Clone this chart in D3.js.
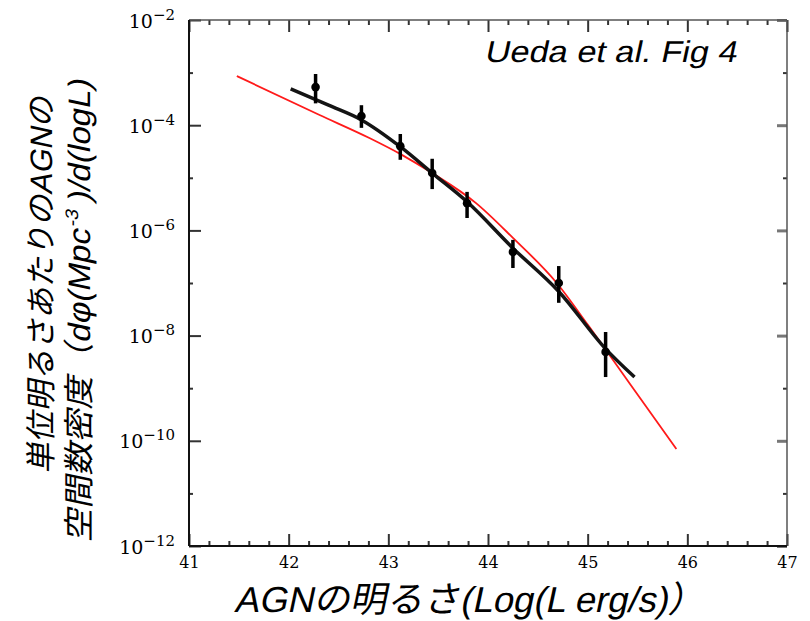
<!DOCTYPE html>
<html>
<head>
<meta charset="utf-8">
<script src="https://cdn.jsdelivr.net/npm/d3@7"></script>
<style>
  body { margin: 0; background: #fff; }
  .num { font-family: "DejaVu Serif", serif; fill: #000; }
  .jp { font-family: "Liberation Sans", "Noto Sans CJK JP", sans-serif; fill: #000; }
</style>
</head>
<body>
<svg id="chart" width="810" height="621"></svg>
<script>
// log L (erg/s) ticks and decades of the density axis
var xMajor = [41, 42, 43, 44, 45, 46, 47];
var yMajorExp = [-2, -4, -6, -8, -10, -12];
var yMinorExp = [-3, -5, -7, -9, -11];

// binned data points (Ueda et al.)
var pointL   = [42.27, 42.73, 43.12, 43.44, 43.79, 44.25, 44.71, 45.18];
var pointPhi = [5.3e-4, 1.5e-4, 4.0e-5, 1.23e-5, 3.3e-6, 3.9e-7, 1.0e-7, 4.9e-9];
var errHi    = [9.4e-4, 2.4e-4, 6.8e-5, 2.3e-5, 5.4e-6, 6.6e-7, 2.1e-7, 1.17e-8];
var errLo    = [2.6e-4, 8.9e-5, 2.2e-5, 6.1e-6, 1.72e-6, 1.93e-7, 4.2e-8, 1.63e-9];

// black fit curve
var fitL   = [42.02, 42.40, 42.73, 43.12, 43.44, 43.79, 44.25, 44.71, 45.18, 45.47];
var fitPhi = [4.9e-4, 2.4e-4, 1.26e-4, 3.9e-5, 1.23e-5, 3.5e-6, 4.6e-7, 6.9e-8, 5.6e-9, 1.63e-9];

// red model curve
var modelL   = [41.48, 42.31, 42.81, 43.14, 43.44, 43.88, 44.25, 44.69, 45.00, 45.37, 45.52, 45.89];
var modelPhi = [8.6e-4, 1.56e-4, 5.7e-5, 2.7e-5, 1.23e-5, 3.3e-6, 7.2e-7, 1.0e-7, 1.62e-8, 1.68e-9, 6.7e-10, 7.0e-11];

var pLeft = 189, pRight = 787, pTop = 20, pBottom = 546;

var svg = d3.select("#chart");

var x = d3.scaleLinear().domain([41, 47]).range([pLeft, pRight]);
var y = d3.scaleLog().domain([1e-12, 1e-2]).range([pBottom, pTop]);

var xMinor = d3.range(41, 47.001, 0.2).filter(function(v) {
  return Math.abs(v - Math.round(v)) > 0.01;
});
var pow10 = function(e) { return Math.pow(10, e); };

// ticks (all pointing inward)
function drawAxis(axis, tx, ty, cls) {
  var g = svg.append("g")
    .attr("class", cls)
    .attr("transform", "translate(" + tx + "," + ty + ")")
    .call(axis);
  g.select(".domain").remove();
  g.attr("font-family", null).attr("font-size", null);
  g.selectAll(".tick line").attr("stroke", "#333").attr("stroke-width", 2);
  return g;
}

var noLabel = function() { return ""; };

drawAxis(d3.axisBottom(x).tickValues(xMinor).tickSize(-5).tickFormat(noLabel), 0, pBottom, "xminor");
drawAxis(d3.axisTop(x).tickValues(xMinor).tickSize(-5).tickFormat(noLabel), 0, pTop, "xminor-top");
drawAxis(d3.axisTop(x).tickValues(xMajor).tickSize(-12).tickFormat(noLabel), 0, pTop, "xmajor-top");
var xg = drawAxis(d3.axisBottom(x).tickValues(xMajor).tickSize(-12).tickPadding(11).tickFormat(d3.format("d")), 0, pBottom, "xmajor");
xg.selectAll("text").attr("class", "num").style("font-size", "16px");

drawAxis(d3.axisLeft(y).tickValues(yMinorExp.map(pow10)).tickSize(-4).tickFormat(noLabel), pLeft, 0, "yminor");
drawAxis(d3.axisRight(y).tickValues(yMinorExp.map(pow10)).tickSize(-4).tickFormat(noLabel), pRight, 0, "yminor-r");
drawAxis(d3.axisRight(y).tickValues(yMajorExp.map(pow10)).tickSize(-10).tickFormat(noLabel), pRight, 0, "ymajor-r")
  .selectAll(".tick line").attr("stroke", "#777").attr("stroke-width", 3);
var yg = drawAxis(d3.axisLeft(y).tickValues(yMajorExp.map(pow10)).tickSize(-12).tickPadding(14).tickFormat(noLabel), pLeft, 0, "ymajor");

yg.selectAll(".tick text").each(function(d) {
  var t = d3.select(this).attr("class", "num").attr("dy", null).attr("y", 7);
  t.append("tspan").style("font-size", "19px").text("10");
  t.append("tspan").attr("dy", -8).style("font-size", "15px").text("\u2212" + Math.round(-Math.log10(d)));
});

// frame
svg.append("line").attr("x1", pLeft).attr("x2", pRight).attr("y1", pTop).attr("y2", pTop)
  .attr("stroke", "#555").attr("stroke-width", 1.5);
svg.append("line").attr("x1", pRight).attr("x2", pRight).attr("y1", pTop).attr("y2", pBottom)
  .attr("stroke", "#555").attr("stroke-width", 1.5);
svg.append("line").attr("x1", pLeft).attr("x2", pRight).attr("y1", pBottom).attr("y2", pBottom)
  .attr("stroke", "#111").attr("stroke-width", 2);
svg.append("line").attr("x1", pLeft).attr("x2", pLeft).attr("y1", pTop).attr("y2", pBottom)
  .attr("stroke", "#111").attr("stroke-width", 2);

// curves
var line = d3.line()
  .x(function(d) { return x(d[0]); })
  .y(function(d) { return y(d[1]); })
  .curve(d3.curveMonotoneX);

svg.append("path")
  .datum(d3.zip(modelL, modelPhi))
  .attr("d", line)
  .attr("fill", "none")
  .attr("stroke", "#ff1a1a")
  .attr("stroke-width", 1.8);

svg.append("path")
  .datum(d3.zip(fitL, fitPhi))
  .attr("d", line)
  .attr("fill", "none")
  .attr("stroke", "#141414")
  .attr("stroke-width", 3.5);

// error bars and points
var pts = pointL.map(function(l, i) {
  return { l: l, phi: pointPhi[i], hi: errHi[i], lo: errLo[i] };
});

svg.selectAll(".err").data(pts).enter().append("line")
  .attr("class", "err")
  .attr("x1", function(d) { return x(d.l); })
  .attr("x2", function(d) { return x(d.l); })
  .attr("y1", function(d) { return y(d.hi); })
  .attr("y2", function(d) { return y(d.lo); })
  .attr("stroke", "#000")
  .attr("stroke-width", 3.5);

svg.selectAll(".pt").data(pts).enter().append("circle")
  .attr("class", "pt")
  .attr("cx", function(d) { return x(d.l); })
  .attr("cy", function(d) { return y(d.phi); })
  .attr("r", 4.3)
  .attr("fill", "#000");

// texts (oblique done with a skew so the kana/kanji lean too)
svg.append("text").attr("class", "jp")
  .attr("transform", "translate(484,62) skewX(-12)")
  .attr("textLength", 252).attr("lengthAdjust", "spacingAndGlyphs")
  .style("font-size", "30px")
  .text("Ueda et al. Fig 4");

svg.append("text").attr("class", "jp")
  .attr("transform", "translate(469,612) skewX(-12)")
  .attr("text-anchor", "middle")
  .attr("textLength", 470).attr("lengthAdjust", "spacingAndGlyphs")
  .style("font-size", "36px")
  .text("AGNの明るさ(Log(L erg/s)）");

svg.append("text").attr("class", "jp")
  .attr("transform", "translate(52,285) rotate(-90) skewX(-12)")
  .attr("text-anchor", "middle")
  .style("font-size", "31px")
  .text("単位明るさあたりのAGNの");

var yl2 = svg.append("text").attr("class", "jp")
  .attr("transform", "translate(90,311) rotate(-90) skewX(-12)")
  .attr("text-anchor", "middle")
  .attr("textLength", 462).attr("lengthAdjust", "spacingAndGlyphs")
  .style("font-size", "31px");
yl2.append("tspan").text("空間数密度（dφ(Mpc");
yl2.append("tspan").attr("dy", -12).style("font-size", "18px").text("-3");
yl2.append("tspan").attr("dy", 12).text(" )/d(logL)");
</script>
</body>
</html>
